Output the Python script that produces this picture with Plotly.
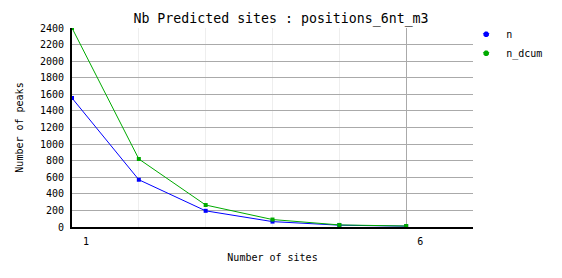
import plotly.graph_objects as go

sites = [1, 2, 3, 4, 5, 6]
n = [1555, 570, 195, 65, 22, 10]
n_dcum = [2400, 820, 265, 90, 25, 12]
x_tickvals = [1, 6]
x_ticktext = ["1", "6"]
series = [("n", n, "#0000ff"), ("n_dcum", n_dcum, "#00aa00")]

FONT = "DejaVu Sans Mono"

fig = go.Figure()
for name, vals, col in series:
    fig.add_trace(go.Scatter(x=sites, y=vals, name=name, mode="lines+markers",
                             line=dict(color=col, width=1), showlegend=False,
                             legendgroup=name,
                             marker=dict(color=col, symbol="square", size=4)))
for name, vals, col in series:
    # legend entry: marker only, as in the reference
    fig.add_trace(go.Scatter(x=[None], y=[None], name=name, mode="markers",
                             legendgroup=name,
                             marker=dict(color=col, symbol="octagon", size=6)))

fig.update_layout(
    width=562, height=278,
    margin=dict(l=72, r=89, t=28, b=51, autoexpand=False),
    paper_bgcolor="white", plot_bgcolor="white",
    font=dict(family=FONT, size=10, color="black"),
    title=dict(text="Nb Predicted sites : positions_6nt_m3", x=0.5, xanchor="center",
               y=1 - 18 / 278, yanchor="middle", font=dict(family=FONT, size=13.25)),
    showlegend=True,
    legend=dict(x=0.983, xanchor="left", y=1.041, yanchor="top",
                font=dict(family=FONT, size=10), itemwidth=30,
                bgcolor="rgba(0,0,0,0)", tracegroupgap=0),
)
fig.update_xaxes(
    range=[1, 7], tickvals=x_tickvals, ticktext=x_ticktext,
    showgrid=True, gridcolor="#aaaaaa", gridwidth=1,
    minor=dict(dtick=1, tick0=1, showgrid=True, gridcolor="#eeeeee", gridwidth=1),
    showline=True, linecolor="black", linewidth=2,
    ticks="", ticklabelshift=14, ticklabelstandoff=4,
    title=dict(text="Number of sites", font=dict(family=FONT, size=10), standoff=8),
    zeroline=False, fixedrange=True,
)
fig.update_yaxes(
    range=[0, 2400], dtick=200, tick0=0,
    showgrid=True, gridcolor="#aaaaaa", gridwidth=1,
    showline=True, linecolor="black", linewidth=2,
    ticks="", ticklabelstandoff=4,
    title=dict(text="Number of peaks", font=dict(family=FONT, size=10), standoff=14),
    zeroline=False, fixedrange=True,
)

fig.write_html("out.html")
